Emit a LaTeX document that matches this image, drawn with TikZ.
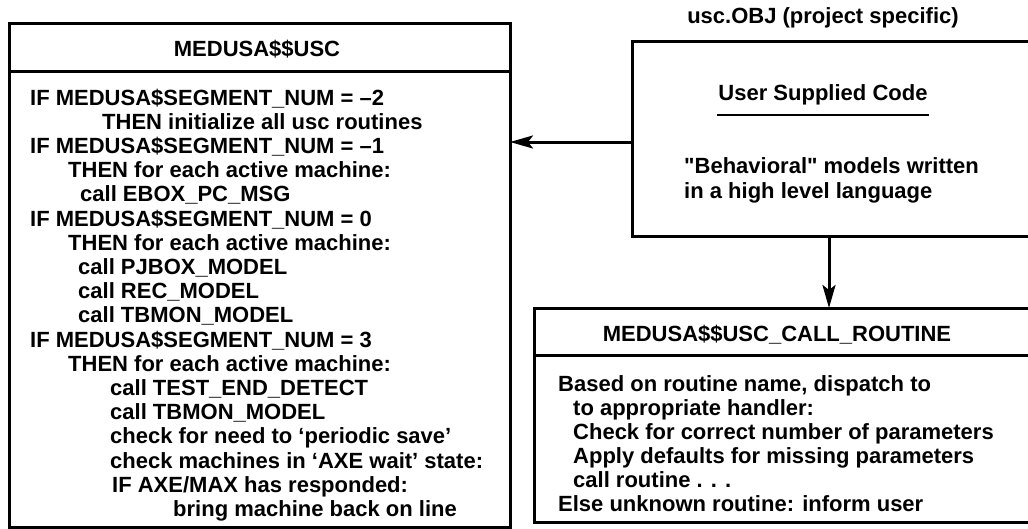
\documentclass[tikz,border=0pt]{standalone}
\usepackage{fontspec}
\setmainfont{Liberation Sans}
\newfontfamily\diagfont{Liberation Sans Bold}
\usetikzlibrary{arrows.meta}

\tikzset{
  frame/.style={draw=black, line width=3pt},
  rule/.style={draw=black, line width=3pt},
  flow/.style={draw=black, line width=3pt, -{Stealth[length=23pt,width=13pt,inset=5pt]}},
  txt/.style={inner sep=0pt, anchor=base west, font=\diagfont\fontsize{22}{24.2}\selectfont},
  ctxt/.style={txt, anchor=base},
}

\begin{document}
\begin{tikzpicture}[x=1pt, y=-1pt]
  \useasboundingbox (0,0) rectangle (1028,528);
  \clip (0,0) rectangle (1028,528);
  \fill[white] (0,0) rectangle (1028,528);

  % MEDUSA$$USC procedure box
  \draw[frame] (9,23) rectangle (510,527);
  \draw[rule] (9,71) -- (510,71);
  \node[ctxt] (uscTitle) at (257,56) {MEDUSA\$\$USC};

  \foreach \ind/\txt [count=\i] in {
      0/{IF MEDUSA\$SEGMENT\_NUM = –2},
      72/{THEN initialize all usc routines},
      0/{IF MEDUSA\$SEGMENT\_NUM = –1},
      38/{THEN for each active machine:},
      50/{call EBOX\_PC\_MSG},
      0/{IF MEDUSA\$SEGMENT\_NUM = 0},
      38/{THEN for each active machine:},
      48/{call PJBOX\_MODEL},
      48/{call REC\_MODEL},
      48/{call TBMON\_MODEL},
      0/{IF MEDUSA\$SEGMENT\_NUM = 3},
      38/{THEN for each active machine:},
      80/{call TEST\_END\_DETECT},
      80/{call TBMON\_MODEL},
      80/{check for need to ‘periodic save’},
      80/{check machines in ‘AXE wait’ state:},
      82/{IF AXE/MAX has responded:},
      143/{bring machine back on line}}
    \node[txt] (uscLine\i) at (30+\ind, {105+24.2*(\i-1)}) {\txt};

  % user supplied code object
  \node[ctxt] (objLabel) at (823,23) {usc.OBJ (project specific)};
  \draw[frame] (632,41) rectangle (1045,236);
  \node[ctxt] (userCode) at (823,100) {User Supplied Code};
  \coordinate (ruleL) at (717,115);
  \coordinate (ruleR) at (929,115);
  \draw[line width=2.6pt] (ruleL) -- (ruleR);
  \node[txt] (behav1) at (684,173) {"Behavioral" models written};
  \node[txt] (behav2) at (684,198) {in a high level language};

  % MEDUSA$$USC_CALL_ROUTINE box
  \draw[frame] (534,308) rectangle (1045,522);
  \draw[rule] (534,355) -- (1045,355);
  \node[ctxt] (callTitle) at (777,341) {MEDUSA\$\$USC\_CALL\_ROUTINE};
  \foreach \ind/\txt [count=\i] in {
      0/{Based on routine name, dispatch to},
      15/{to appropriate handler:},
      15/{Check for correct number of parameters},
      15/{Apply defaults for missing parameters},
      15/{call routine . . .},
      0/{Else unknown routine: inform user}}
    \node[txt] (callLine\i) at (558+\ind, {391+24*(\i-1)}) {\txt};

  % connectors
  \coordinate (objWest) at (632,142);
  \coordinate (uscEast) at (510,142);
  \coordinate (objSouth) at (829,236);
  \coordinate (callNorth) at (829,308);
  \draw[flow] (objWest) -- (uscEast);
  \draw[flow] (objSouth) -- (callNorth);
\end{tikzpicture}
\end{document}
